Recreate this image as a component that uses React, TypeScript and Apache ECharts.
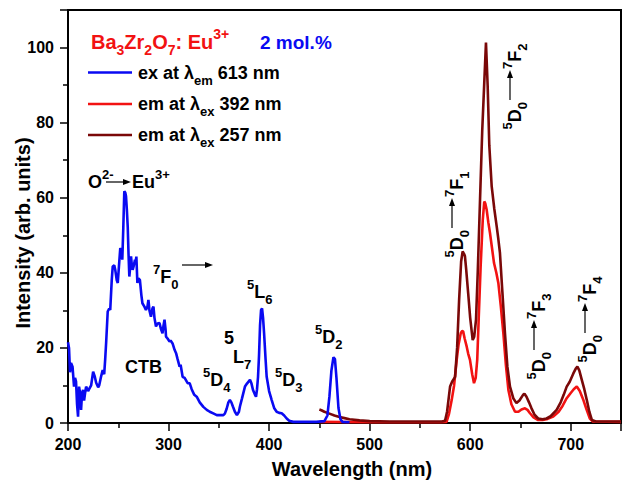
import React, { useEffect, useRef } from 'react';
import * as echarts from 'echarts';

const FF = '"Liberation Sans", Arial, Helvetica, sans-serif';

// Excitation spectrum (λem = 613 nm)
const exWavelength = [200, 201, 202, 203, 204.5, 206, 207, 208, 209, 210, 211, 212, 213, 214, 215, 216, 217, 218, 220, 221, 223, 225, 226.5, 228, 230, 231, 233, 234.5, 236, 237, 238, 239.5, 241, 242, 243.5, 244.5, 246, 247, 248.5, 249.5, 251, 252, 253, 254, 255, 256, 257, 257.7, 258.5, 259.4, 260.2, 261, 262, 262.7, 263.5, 264.3, 265.5, 266.6, 267.3, 268, 269, 270, 271.5, 273, 274, 276, 277.5, 279, 280, 281, 282.5, 284, 285, 286, 287.5, 289, 291, 292.5, 294, 295, 296, 297, 297.5, 299, 301, 302, 304, 306, 307.5, 309, 311, 312, 314, 316, 319, 321, 323, 325.6, 328, 331, 334.6, 338, 341, 345, 348, 354.5, 356, 357.8, 359.5, 361, 362.5, 364, 366, 368, 370, 371, 373, 376, 378, 381, 382.5, 384, 386, 387, 388, 389, 390, 391, 392, 393, 394, 395, 396.5, 397.6, 400, 402.6, 405, 407.5, 410, 412.5, 415, 417.5, 420, 424, 447, 455, 458, 460, 462, 464, 465.5, 467, 469, 471, 473, 480];
const exIntensity = [21.5, 20, 13.5, 16, 15, 9.7, 12, 11, 5, 1.7, 9.7, 8, 3.5, 8, 8.8, 6, 8, 9.7, 8.5, 9, 10, 13.7, 12.5, 10.7, 9.5, 10, 12.5, 14.1, 13, 17, 21.7, 29.7, 30.5, 30.1, 38, 41.7, 42, 40.8, 38, 37.3, 43, 46.6, 46, 43.5, 52, 61.7, 61.3, 60.4, 57, 52.3, 45, 39, 42, 44.4, 42, 40.8, 42, 43.5, 43, 44.3, 37.3, 38.5, 38.1, 34, 31.9, 31, 30.1, 31, 32.8, 30, 28.3, 30.5, 31, 28, 25.7, 26.5, 26.6, 25, 23.9, 26, 27.5, 25, 23, 22.5, 21.7, 22, 21.2, 19.5, 18.6, 17, 15, 15.5, 12.3, 12, 10.6, 10.6, 9, 7.5, 7, 5.5, 4.3, 3.5, 3, 2.5, 2.1, 2.1, 2.5, 3.8, 5.5, 6.1, 5.5, 4.4, 3, 2.1, 3, 4.4, 6.5, 9.7, 10.5, 11.5, 10.5, 8.8, 7.5, 7, 9, 12.3, 18, 26, 30.1, 30.5, 28, 24, 17, 12.3, 8.5, 6.1, 4, 3, 2.7, 2.6, 2, 1.2, 0.6, 0.3, 0.3, 0.5, 2, 7, 14, 17.5, 17, 12, 4, 1, 0.3, 0.2];

// Emission spectrum (λex = 392 nm)
const em392Wavelength = [450, 500, 570, 576.5, 579, 581.6, 584, 586.6, 588.5, 590.6, 592, 593, 594.5, 596.5, 598, 599.8, 602, 603.8, 605.5, 607, 608.5, 610.4, 612.5, 614, 615, 616.4, 618, 619.7, 621.5, 623.7, 626, 628, 630.5, 633, 635.5, 638, 641, 644.6, 648, 651, 654.5, 657, 659.5, 663, 667.6, 672, 677, 682.6, 688, 692, 696, 700, 703, 706, 709, 712.6, 715.5, 719, 722, 750];
const em392Intensity = [0.3, 0.2, 0.2, 0.3, 2.5, 6.1, 10, 16.8, 21, 23.9, 24.5, 24.4, 22.5, 20.4, 18.5, 16.8, 13, 10.6, 12, 16.8, 28, 41.7, 54, 59, 58.5, 56.8, 53.5, 50.6, 47, 42.6, 40, 37.3, 31, 23.9, 15.5, 8.8, 5, 3, 3, 3.6, 3.9, 3.5, 2.6, 1.5, 0.8, 0.8, 1.1, 1.7, 3, 4.6, 6.6, 8, 9, 9.7, 8.5, 6.1, 3.8, 1.2, 0.4, 0.3];

// Emission spectrum (λex = 257 nm)
const em257Wavelength = [450, 452, 455, 460, 465, 470, 475, 480, 490, 500, 520, 540, 560, 572, 575, 577, 580, 582, 585, 587, 589, 591, 592.5, 594, 594.8, 596, 598, 600, 602.5, 604, 605.8, 607.5, 609.8, 612, 614, 615.7, 617.4, 619, 621.4, 624, 626.4, 628, 629.6, 632, 634.6, 637, 639.6, 643, 646, 649, 652.6, 654, 656, 658.5, 661, 664, 667.6, 672, 676, 680, 686, 690, 693, 696, 699, 702.6, 705, 706.6, 708.5, 711, 713.5, 716, 718.5, 721, 725, 750];
const em257Intensity = [3.6, 3.4, 3, 2.5, 2, 1.6, 1.3, 1, 0.7, 0.5, 0.4, 0.4, 0.4, 0.4, 0.6, 3, 9.7, 11, 12.3, 20, 32.8, 43, 45.7, 45, 44.4, 41, 34.6, 28, 22.1, 23, 27.5, 40, 59.5, 78, 90.6, 101.3, 89.7, 74, 63, 57, 52.3, 49, 45.3, 35, 23.9, 15, 9.7, 6.5, 5.3, 6, 7.5, 7.8, 7, 5.5, 3.9, 2.2, 1.2, 1, 1.2, 1.8, 3.5, 5.5, 7.5, 9.7, 11, 13.2, 14.5, 15, 14, 11.5, 9, 6.1, 3, 0.8, 0.4, 0.4];

const xTitle = 'Wavelength (nm)';
const yTitle = 'Intensity (arb. units)';

const BLUE = '#0a0af2';
const RED = '#f21212';
const DARK = '#7a0808';

function richFor(color: string, size: number) {
  const s = Math.round(size * 0.7);
  const base = { fontFamily: FF, fontWeight: 'bold', fill: color };
  return {
    m: { ...base, fontSize: size, lineHeight: size + 10 },
    sub: { ...base, fontSize: s, verticalAlign: 'bottom', height: s },
    sup: { ...base, fontSize: s, verticalAlign: 'top', height: s },
  };
}

function label(text: string, x: number, y: number, color = '#000', size = 18, align = 'left') {
  return {
    type: 'text',
    x,
    y,
    silent: true,
    style: {
      text,
      rich: richFor(color, size),
      align,
      verticalAlign: 'middle',
      fill: color,
      fontFamily: FF,
      fontWeight: 'bold',
      fontSize: size,
    },
  };
}

function plainText(text: string, x: number, y: number, size: number, rotation = 0) {
  return {
    type: 'text',
    x,
    y,
    rotation,
    silent: true,
    style: { text, fill: '#000', fontFamily: FF, fontWeight: 'bold', fontSize: size, align: 'center', verticalAlign: 'middle' },
  };
}

function arrow(x1: number, y: number, x2: number) {
  return [
    { type: 'line', silent: true, shape: { x1, y1: y, x2: x2 - 5, y2: y }, style: { stroke: '#000', lineWidth: 1.2 } },
    { type: 'polygon', silent: true, shape: { points: [[x2 - 8, y - 3], [x2, y], [x2 - 8, y + 3]] }, style: { fill: '#000' } },
  ];
}

function transition(x: number, y: number, upper: string) {
  return {
    type: 'group',
    x,
    y,
    rotation: Math.PI / 2,
    children: [
      label('{sup|5}{m|D}{sub|0}', -2, 0, '#000', 18, 'right'),
      ...arrow(0, -5, 30),
      label(`{sup|7}{m|F}{sub|${upper}}`, 31, 0, '#000', 18, 'left'),
    ],
  };
}

function legendItem(y: number, color: string, text: string) {
  return [
    { type: 'line', silent: true, shape: { x1: 88, y1: y, x2: 132, y2: y }, style: { stroke: color, lineWidth: 2.6 } },
    label(text, 138, y, '#000', 18, 'left'),
  ];
}

function zip(xs: number[], ys: number[]) {
  return xs.map((x, i) => [x, ys[i]]);
}

export default function App() {
  const ref = useRef<HTMLDivElement>(null);
  useEffect(() => {
    if (!ref.current) return;
    const chart = echarts.init(ref.current, undefined, { renderer: 'svg' });
    const tickStyle = { color: '#000', width: 1.5 };
    chart.setOption({
      animation: false,
      backgroundColor: '#fff',
      grid: {
        left: 68,
        right: 2,
        top: 10,
        bottom: 58,
        show: true,
        borderColor: '#000',
        borderWidth: 2,
        containLabel: false,
        outerBoundsMode: 'none',
      },
      xAxis: {
        type: 'value',
        min: 200,
        max: 750,
        interval: 100,
        axisLine: { onZero: false, lineStyle: { color: '#000', width: 2 } },
        axisTick: { length: 8, lineStyle: tickStyle },
        minorTick: { show: true, splitNumber: 2, length: 5, lineStyle: tickStyle },
        axisLabel: {
          margin: 13,
          fontFamily: FF,
          fontWeight: 'bold',
          fontSize: 16,
          color: '#000',
          formatter: (v: number) => (v > 700 ? '' : String(v)),
        },
        splitLine: { show: false },
      },
      yAxis: {
        type: 'value',
        min: 0,
        max: 110,
        interval: 20,
        axisLine: { onZero: false, lineStyle: { color: '#000', width: 2 } },
        axisTick: { length: 8, lineStyle: tickStyle },
        minorTick: { show: true, splitNumber: 2, length: 5, lineStyle: tickStyle },
        axisLabel: {
          margin: 14,
          fontFamily: FF,
          fontWeight: 'bold',
          fontSize: 16,
          color: '#000',
          formatter: (v: number) => (v > 100 ? '' : String(v)),
        },
        splitLine: { show: false },
      },
      series: [
        {
          type: 'line',
          name: 'em at λex 392 nm',
          data: zip(em392Wavelength, em392Intensity),
          showSymbol: false,
          lineStyle: { color: RED, width: 2.6 },
          itemStyle: { color: RED },
          z: 2,
        },
        {
          type: 'line',
          name: 'em at λex 257 nm',
          data: zip(em257Wavelength, em257Intensity),
          showSymbol: false,
          lineStyle: { color: DARK, width: 2.6 },
          itemStyle: { color: DARK },
          z: 3,
        },
        {
          type: 'line',
          name: 'ex at λem 613 nm',
          data: zip(exWavelength, exIntensity),
          showSymbol: false,
          lineStyle: { color: BLUE, width: 2.6 },
          itemStyle: { color: BLUE },
          z: 4,
        },
      ],
      graphic: {
        elements: [
          plainText(xTitle, 352, 469, 20),
          plainText(yTitle, 23, 233, 20, Math.PI / 2),
          label('{m|Ba}{sub|3}{m|Zr}{sub|2}{m|O}{sub|7}{m|: Eu}{sup|3+}', 91, 42, RED, 20),
          label('{m|2 mol.%}', 260, 42, BLUE, 19),
          ...legendItem(72.5, BLUE, '{m|ex at λ}{sub|em}{m| 613 nm}'),
          ...legendItem(104, RED, '{m|em at λ}{sub|ex}{m| 392 nm}'),
          ...legendItem(135, DARK, '{m|em at λ}{sub|ex}{m| 257 nm}'),
          label('{m|O}{sup|2-}', 88, 182, '#000', 18),
          ...arrow(106, 182, 131),
          label('{m|Eu}{sup|3+}', 132, 182, '#000', 18),
          label('{sup|7}{m|F}{sub|0}', 153, 277, '#000', 18),
          ...arrow(182, 265, 213),
          label('{m|CTB}', 125, 367, '#000', 18),
          label('{sup|5}{m|D}{sub|4}', 203, 380, '#000', 18),
          label('{m|5}', 224, 338, '#000', 18),
          label('{m|L}{sub|7}', 233, 357, '#000', 18),
          label('{sup|5}{m|L}{sub|6}', 247, 292, '#000', 18),
          label('{sup|5}{m|D}{sub|3}', 275, 380, '#000', 18),
          label('{sup|5}{m|D}{sub|2}', 315, 337, '#000', 18),
          transition(457, 228, '1'),
          transition(515, 100, '2'),
          transition(539, 350, '3'),
          transition(590, 333, '4'),
        ],
      },
    });
    return () => chart.dispose();
  }, []);
  return <div ref={ref} style={{ position: 'fixed', left: 0, top: 0, width: 623, height: 481, background: '#fff' }} />;
}
